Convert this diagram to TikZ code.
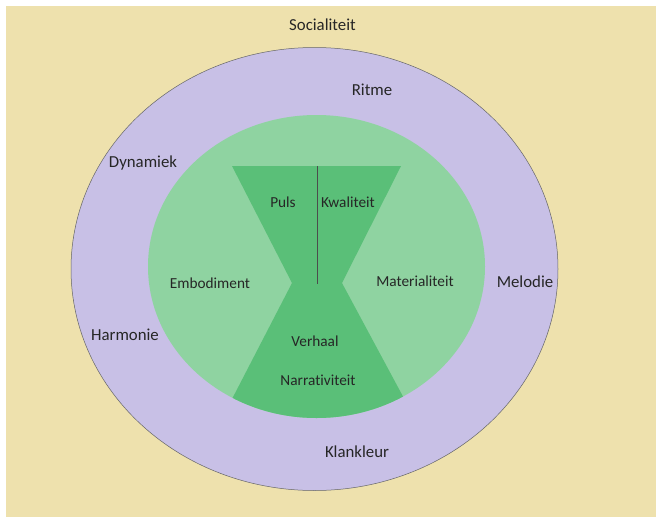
\documentclass[tikz,border=0pt]{standalone}
\usepackage{fontspec}
\setmainfont{Carlito}[Ligatures=NoCommon]
\usepackage{xcolor}
\definecolor{sandbg}{RGB}{238,225,173}
\definecolor{ringpurple}{RGB}{200,192,230}
\definecolor{lightgreen}{RGB}{143,211,161}
\definecolor{darkgreen}{RGB}{90,191,120}

\begin{document}
\begin{tikzpicture}[x=1pt,y=-1pt,
    lbl/.style={font=\fontsize{15.3}{18}\selectfont,text=black!85,inner sep=0pt},
    outerlbl/.style={lbl,font=\fontsize{16.8}{20}\selectfont}]
    \useasboundingbox (0,0) rectangle (656,517);
    \fill[sandbg] (6,6) rectangle (656,517);
    % outer ring and inner disc
    \draw[fill=ringpurple,draw=black!60,line width=0.5pt] (314.5,269) ellipse (243.5 and 221.5);
    \fill[lightgreen] (316.5,266.5) ellipse (168.5 and 151.5);
    % hourglass, bottom cut off by the disc
    \begin{scope}
        \clip (316.5,266.5) ellipse (168.5 and 151.5);
        \fill[darkgreen] (232,166) -- (401,166) -- (342,283) -- (421,430)
            -- (216,430) -- (292,283) -- cycle;
    \end{scope}
    \coordinate (splittop) at (317,166);
    \coordinate (splitbot) at (317,284);
    \draw[black!70,line width=0.8pt] (splittop) -- (splitbot);

    \node[outerlbl] (socialiteit) at (322.5,25) {Socialiteit};
    \node[outerlbl] (ritme) at (372,90) {Ritme};
    \node[outerlbl] (dynamiek) at (143,163) {Dynamiek};
    \node[outerlbl] (melodie) at (525,282) {Melodie};
    \node[outerlbl] (harmonie) at (125,335) {Harmonie};
    \node[outerlbl] (klankleur) at (357,452) {Klankleur};
    \node[lbl] (puls) at (283,202) {Puls};
    \node[lbl] (kwaliteit) at (348,202) {Kwaliteit};
    \node[lbl] (embodiment) at (210,283) {Embodiment};
    \node[lbl] (materialiteit) at (415,281) {Materialiteit};
    \node[lbl] (verhaal) at (315,341) {Verhaal};
    \node[lbl] (narrativiteit) at (318,380) {Narrativiteit};
\end{tikzpicture}
\end{document}
